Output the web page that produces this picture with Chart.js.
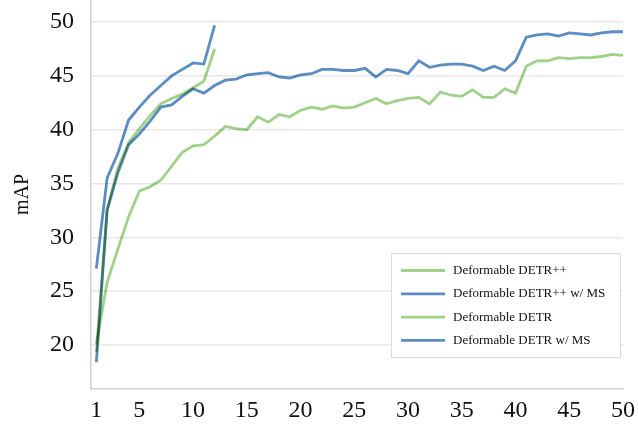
<!DOCTYPE html>
<html>
<head>
<meta charset="utf-8">
<script src="https://cdn.jsdelivr.net/npm/chart.js@4.4.1/dist/chart.umd.min.js"></script>
<style>
  html, body { margin: 0; padding: 0; background: #fff; }
  #wrap { width: 638px; height: 425px; }
</style>
</head>
<body>
<div id="wrap"><canvas id="c" width="638" height="425"></canvas></div>
<script>
const epochs = [1,2,3,4,5,6,7,8,9,10,11,12,13,14,15,16,17,18,19,20,21,22,23,24,25,26,27,28,29,30,31,32,33,34,35,36,37,38,39,40,41,42,43,44,45,46,47,48,49,50];
const xTicks = [1,5,10,15,20,25,30,35,40,45,50];
const yTicks = [20,25,30,35,40,45,50];

const seriesNames = ['Deformable DETR++', 'Deformable DETR++ w/ MS', 'Deformable DETR', 'Deformable DETR w/ MS'];

const detrPP = [19.3, 32.6, 36.4, 38.8, 40.1, 41.3, 42.4, 42.9, 43.3, 43.9, 44.5, 47.5];
const detrPPMS = [27.1, 35.5, 37.8, 40.9, 42.1, 43.2, 44.1, 45.0, 45.6, 46.2, 46.1, 49.7];
const detr = [20.1, 25.8, 28.9, 31.9, 34.3, 34.7, 35.3, 36.6, 37.9, 38.5,
              38.6, 39.4, 40.3, 40.1, 40.0, 41.2, 40.7, 41.4, 41.2, 41.8,
              42.1, 41.9, 42.2, 42.0, 42.1, 42.5, 42.9, 42.4, 42.7, 42.9,
              43.0, 42.4, 43.5, 43.2, 43.1, 43.7, 43.0, 43.0, 43.8, 43.4,
              45.9, 46.4, 46.4, 46.7, 46.6, 46.7, 46.7, 46.8, 47.0, 46.9];
const detrMS = [18.4, 32.5, 36.0, 38.6, 39.6, 40.8, 42.1, 42.3, 43.1, 43.8,
                43.4, 44.1, 44.6, 44.7, 45.1, 45.2, 45.3, 44.9, 44.8, 45.1,
                45.2, 45.6, 45.6, 45.5, 45.5, 45.7, 44.9, 45.6, 45.5, 45.2,
                46.4, 45.8, 46.0, 46.1, 46.1, 45.9, 45.5, 45.9, 45.5, 46.4,
                48.6, 48.8, 48.9, 48.7, 49.0, 48.9, 48.8, 49.0, 49.1, 49.1];

const GREEN = '#9fd18a';
const BLUE = '#5b8dc2';
const colors = [GREEN, BLUE, GREEN, BLUE];
const allSeries = [detrPP, detrPPMS, detr, detrMS];

function pts(arr) { return arr.map((v, i) => ({ x: epochs[i], y: v })); }

const serif = "'Liberation Serif', 'Times New Roman', serif";

const blendPlugin = {
  id: 'blend',
  beforeDraw(chart) {
    const ctx = chart.ctx;
    ctx.save();
    ctx.fillStyle = '#ffffff';
    ctx.fillRect(0, 0, chart.width, chart.height);
    ctx.restore();
  },
  beforeDatasetsDraw(chart) {
    chart.ctx.save();
    chart.ctx.globalCompositeOperation = 'multiply';
  },
  afterDatasetsDraw(chart) {
    chart.ctx.restore();
  }
};

const legendPlugin = {
  id: 'boxLegend',
  afterDraw(chart) {
    const ctx = chart.ctx;
    const a = chart.chartArea;
    const right = a.right - 2, bottom = a.bottom - 31;
    const w = 230, h = 105;
    const left = right - w, top = bottom - h;
    ctx.save();
    ctx.fillStyle = '#ffffff';
    ctx.fillRect(left, top, w, h);
    ctx.strokeStyle = '#dcdcdc';
    ctx.lineWidth = 1;
    ctx.strokeRect(left + 0.5, top + 0.5, w - 1, h - 1);
    ctx.font = "13px " + serif;
    ctx.textBaseline = 'middle';
    ctx.textAlign = 'left';
    seriesNames.forEach((name, i) => {
      const y = top + 17.5 + i * 23.3;
      ctx.strokeStyle = colors[i];
      ctx.lineWidth = 2.8;
      ctx.beginPath();
      ctx.moveTo(left + 10, y);
      ctx.lineTo(left + 54, y);
      ctx.stroke();
      ctx.fillStyle = '#111';
      ctx.fillText(name, left + 62, y);
    });
    ctx.restore();
  }
};

new Chart(document.getElementById('c'), {
  type: 'line',
  data: {
    datasets: allSeries.map((s, i) => ({
      label: seriesNames[i],
      data: pts(s),
      borderColor: colors[i],
      backgroundColor: colors[i],
      borderWidth: 2.8,
      pointRadius: 0,
      tension: 0,
      fill: false,
      borderJoinStyle: 'miter'
    }))
  },
  options: {
    responsive: false,
    animation: false,
    layout: { padding: { left: 0, right: 15, top: 0, bottom: 0 } },
    plugins: { legend: { display: false }, tooltip: { enabled: false } },
    scales: {
      x: {
        type: 'linear',
        min: 0.5,
        max: 50,
        afterBuildTicks(scale) { scale.ticks = xTicks.map(v => ({ value: v })); },
        afterFit(scale) { scale.height = 36; scale.paddingLeft = 0; scale.paddingRight = 0; },
        grid: { display: false, drawTicks: false },
        border: { display: true, color: '#d0d0d0', width: 1.5 },
        ticks: {
          color: '#111',
          font: { family: serif, size: 24 },
          padding: 7,
          maxRotation: 0,
          autoSkip: false,
          callback: v => String(v)
        }
      },
      y: {
        type: 'linear',
        min: 15.9,
        max: 52.05,
        afterBuildTicks(scale) { scale.ticks = yTicks.map(v => ({ value: v })); },
        afterFit(scale) { scale.width = 91; scale.paddingTop = 0; scale.paddingBottom = 0; },
        grid: { color: '#e8e8e8', lineWidth: 1.5, drawTicks: false },
        border: { display: true, color: '#d0d0d0', width: 1.5 },
        title: {
          display: true,
          text: 'mAP',
          color: '#111',
          font: { family: serif, size: 20 },
          padding: { top: 11, bottom: 0 }
        },
        ticks: {
          color: '#111',
          font: { family: serif, size: 24 },
          padding: 17,
          callback: v => String(v)
        }
      }
    }
  },
  plugins: [blendPlugin, legendPlugin]
});
</script>
</body>
</html>
